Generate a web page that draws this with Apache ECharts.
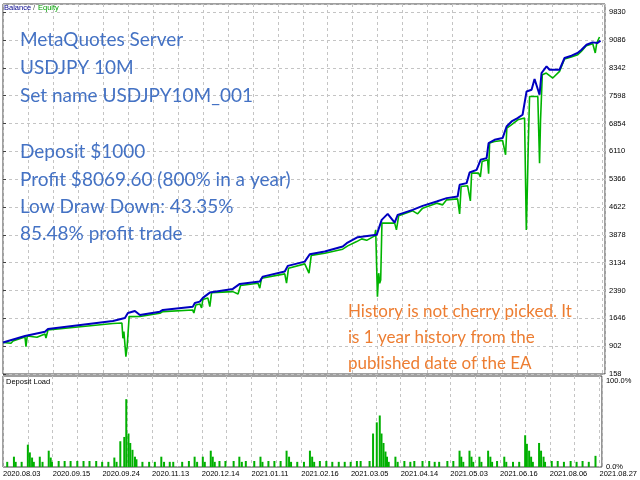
<!DOCTYPE html>
<html>
<head>
<meta charset="utf-8">
<script src="https://cdn.jsdelivr.net/npm/echarts@6/dist/echarts.min.js"></script>
<style>
  html, body { margin: 0; padding: 0; background: #fff; }
  #main { width: 640px; height: 480px; }
</style>
</head>
<body>
<div id="main"></div>
<script>
// x is the trade position along the axis (10 units per grid column)
var dateLabels = ['2020.08.03', '2020.09.15', '2020.09.24', '2020.11.13', '2020.12.14', '2021.01.11',
  '2021.02.16', '2021.03.05', '2021.04.14', '2021.05.03', '2021.06.16', '2021.08.06', '2021.08.27'];

var balX = [0, 8.8, 9.6, 16.8, 18, 44, 48.8, 50, 52.8, 54.8, 62.8, 64, 76, 76.8, 78.8, 80, 82.8, 92, 94.8,
  102.8, 104, 112.8, 114, 120.8, 122.8, 128.8, 136, 137.6, 142, 149.6, 151.6, 154, 156.8, 158, 164, 168,
  173.6, 177.6, 182, 182.8, 185.6, 186.8, 189.6, 191.2, 193.6, 194.4, 196.8, 200, 201.6, 203.6, 206, 208,
  209.6, 211.6, 212.8, 213.6, 214.8, 215.6, 217.6, 218.8, 222.8, 224.8, 227.6, 230, 231.6, 233.6, 236, 238, 239.2];
var balY = [1000, 1175, 1202, 1290, 1362, 1576, 1657, 1790, 1844, 1737, 1825, 1871, 1959, 2058, 2093, 2192,
  2334, 2433, 2566, 2628, 2762, 2896, 3048, 3163, 3361, 3431, 3565, 3655, 3816, 3878, 4279, 4440, 4207, 4413,
  4547, 4654, 4769, 4860, 4903, 5216, 5261, 5545, 5617, 5885, 5930, 6332, 6420, 6465, 6776, 6910, 7000, 7089,
  7712, 7758, 8044, 8025, 7624, 8205, 8381, 8293, 8293, 8606, 8668, 8740, 8828, 8962, 9024, 9007, 9070];

var eqX = [0, 3.2, 4, 8.8, 9.2, 9.7, 13.6, 14, 14.8, 16.8, 17.2, 18, 44, 47.6, 48, 48.4, 49.2, 49.7, 50.5,
  54.8, 62.8, 64, 75.9, 76.4, 77.2, 78.8, 79.5, 80, 82, 82.8, 83.5, 92, 94.1, 95.1, 102.1, 102.8, 103.5,
  112.8, 113.5, 114.3, 120.8, 122.5, 123.4, 128.8, 136, 138, 141.6, 143.6, 145.6, 148.8, 149.2, 149.9, 150.4,
  150.8, 151.2, 151.7, 156.8, 157.5, 158.4, 164, 166, 168, 173.6, 176, 177.6, 182, 182.8, 183.4, 186, 187.1,
  187.6, 190.4, 191.1, 191.8, 194, 194.4, 194.8, 196.8, 200, 201.2, 201.7, 203.5, 206.1, 208.8, 209.5, 209.9,
  210.3, 210.8, 214.1, 214.8, 215.2, 215.9, 217.5, 220.1, 222.8, 224.8, 227.5, 230.1, 231.5, 233.5, 236.1,
  237.1, 237.7, 238.8];
var eqY = [1000, 980, 1041, 1148, 889, 1175, 1140, 1095, 1175, 1228, 1121, 1335, 1509, 1523, 1113, 1290, 621,
  889, 1691, 1696, 1782, 1825, 1871, 1790, 2004, 2031, 1924, 2152, 2192, 1959, 2334, 2360, 2299, 2526, 2585,
  2451, 2719, 2834, 2585, 2986, 3102, 2853, 3329, 3388, 3495, 3583, 3698, 3771, 3731, 3851, 4011, 2226, 2853,
  2585, 2673, 4191, 4191, 4011, 4386, 4520, 4440, 4592, 4726, 4680, 4814, 4841, 4440, 5170, 5189, 4787,
  5529, 5529, 5430, 5839, 5885, 5510, 6332, 6374, 6401, 6018, 6733, 6821, 6955, 7000, 4011, 5082,
  6332, 7579, 7579, 5796, 6955, 8159, 8205, 8071, 8248, 8579, 8633, 8694, 8783, 8935, 8989,
  8740, 9007, 9168];

var loadX = [1.7, 4.4, 5.1, 7.5, 10, 10.8, 11.7, 12.4, 14.8, 15.9, 18.4, 19.2, 19.7, 22.4, 24.8, 27.2, 29.9,
  32.4, 34.8, 37.5, 39.9, 42.4, 44.8, 45.7, 47.2, 48.8, 49.6, 50.5, 51.2, 52.1, 53.1, 53.7, 56.1, 58.8, 61.1,
  63.7, 64.8, 67.1, 68.5, 72.1, 74.8, 77.1, 78.1, 80.4, 81.2, 83.6, 84.4, 85.2, 87.1, 89.5, 92.8, 95.1, 96.1,
  97.7, 101.1, 103.6, 104.4, 106.8, 109.2, 111.7, 114.1, 115.1, 115.9, 118.4, 121.1, 123.5, 124.4, 125.2,
  127.5, 130.1, 132.5, 135.1, 137.5, 139.9, 142.4, 143.9, 147.5, 148.9, 150.4, 151.6, 152.3, 153.1, 153.9,
  154.5, 155.2, 157.9, 158.8, 161.5, 163.9, 165.5, 168.8, 171.5, 173.7, 175.5, 178.8, 181.2, 183.7, 184.4,
  185.2, 187.7, 188.5, 189.2, 191.7, 192.5, 195.2, 196.1, 196.8, 198.8, 201.7, 202.5, 205.2, 207.7, 210.1,
  210.8, 211.7, 212.5, 213.2, 215.7, 216.5, 217.5, 218.1, 220.8, 223.2, 225.7, 228.4, 230.8, 233.2, 235.7, 238.4];
var loadY = [6, 12, 6, 6, 26, 17, 11, 6, 12, 6, 19, 11, 6, 7, 7, 7, 7,
  7, 7, 7, 6, 6, 11, 6, 30, 35, 79, 39, 28, 20, 12, 9, 6, 6, 6,
  12, 6, 6, 6, 6, 7, 12, 6, 12, 6, 19, 12, 6, 7, 7, 7, 12, 6,
  7, 7, 12, 6, 7, 7, 7, 19, 12, 6, 6, 6, 19, 12, 6,
  7, 7, 6, 6, 6, 6, 7, 7, 7, 39, 52, 60, 39, 28, 18,
  12, 6, 12, 6, 7, 6, 7, 7, 7, 6, 6, 7, 7, 19, 12,
  6, 19, 12, 6, 12, 6, 19, 12, 6, 7, 12, 6, 6, 6, 37,
  27, 19, 12, 6, 28, 19, 12, 6, 7, 7, 6, 7, 6, 7, 6, 13];

function zip(xs, ys) {
  return xs.map(function (x, i) { return [x, ys[i]]; });
}

var smallFont = 'Liberation Sans';
var gridLine = { show: true, lineStyle: { color: '#c4c4c4', type: [3, 3], width: 1 } };

var blueLines = [
  ['MetaQuotes Server', 40],
  ['USDJPY 10M', 68],
  ['Set name USDJPY10M_001', 96],
  ['Deposit $1000', 152],
  ['Profit $8069.60 (800% in a year)', 180],
  ['Low Draw Down: 43.35%', 207],
  ['85.48% profit trade', 234]
];
var orangeLines = [
  ['History is not cherry picked. It', 312],
  ['is 1 year history from the', 338],
  ['published date of the EA', 364]
];

var graphics = [
  { type: 'text', x: 4, y: 8, z: 10, style: { text: 'Balance', fill: '#00008b', font: '7.5px ' + smallFont, verticalAlign: 'middle' } },
  { type: 'text', x: 33, y: 8, z: 10, style: { text: '/', fill: '#555', font: '7.5px ' + smallFont, verticalAlign: 'middle' } },
  { type: 'text', x: 38, y: 8, z: 10, style: { text: 'Equity', fill: '#00a000', font: '7.5px ' + smallFont, verticalAlign: 'middle' } },
  { type: 'text', x: 6, y: 382, z: 10, style: { text: 'Deposit Load', fill: '#000', font: '7.5px ' + smallFont, verticalAlign: 'middle' } }
];
blueLines.forEach(function (l) {
  graphics.push({ type: 'text', x: 20, y: l[1], z: 10,
    style: { text: l[0], fill: '#4472c4', font: '19px Lato', verticalAlign: 'middle' } });
});
orangeLines.forEach(function (l) {
  graphics.push({ type: 'text', x: 348, y: l[1], z: 10,
    style: { text: l[0], fill: '#ed7d31', font: '17px Lato', verticalAlign: 'middle' } });
});

var myChart = echarts.init(document.getElementById('main'));
myChart.setOption({
  backgroundColor: '#fff',
  animation: false,
  grid: [
    { left: 3, top: 4, width: 602, height: 370, show: true, borderColor: '#404040', borderWidth: 1 },
    { left: 3, top: 376, width: 602, height: 91, show: true, borderColor: '#404040', borderWidth: 1 }
  ],
  xAxis: [
    { type: 'value', gridIndex: 0, min: 0, max: 241, interval: 10,
      axisLine: { show: false }, axisTick: { show: false }, axisLabel: { show: false }, splitLine: gridLine },
    { type: 'value', gridIndex: 1, min: 0, max: 241, interval: 10,
      axisLine: { show: false }, axisTick: { show: false }, splitLine: gridLine,
      axisLabel: {
        show: true, align: 'left', margin: 3, fontSize: 7.5, fontFamily: smallFont, color: '#000',
        showMaxLabel: false,
        formatter: function (v) { return v % 20 === 0 ? dateLabels[v / 20] : ''; }
      } }
  ],
  yAxis: [
    { type: 'value', gridIndex: 0, position: 'right', min: 158, max: 10050, interval: 744,
      axisLine: { show: false },
      axisTick: { show: true, length: 3, lineStyle: { color: '#404040' } },
      axisLabel: { show: true, margin: 4, fontSize: 7.5, fontFamily: smallFont, color: '#000', showMaxLabel: false,
        formatter: function (v) { return String(Math.round(v)); } },
      splitLine: gridLine },
    { type: 'value', gridIndex: 1, position: 'right', min: 0, max: 106, interval: 100,
      axisLine: { show: false },
      axisTick: { show: false },
      axisLabel: { show: true, margin: 4, fontSize: 7.5, fontFamily: smallFont, color: '#000', showMaxLabel: false,
        formatter: function (v) { return v.toFixed(1) + '%'; } },
      splitLine: { show: false } }
  ],
  series: [
    { name: 'Equity', type: 'line', xAxisIndex: 0, yAxisIndex: 0, data: zip(eqX, eqY),
      symbol: 'none', z: 2, lineStyle: { color: '#00b400', width: 1.6 } },
    { name: 'Balance', type: 'line', xAxisIndex: 0, yAxisIndex: 0, data: zip(balX, balY),
      symbol: 'none', z: 3, lineStyle: { color: '#0000c0', width: 2 } },
    { name: 'Deposit Load', type: 'bar', xAxisIndex: 1, yAxisIndex: 1, data: zip(loadX, loadY),
      barWidth: 2, itemStyle: { color: '#00b000' } }
  ],
  graphic: graphics
});
</script>
</body>
</html>
